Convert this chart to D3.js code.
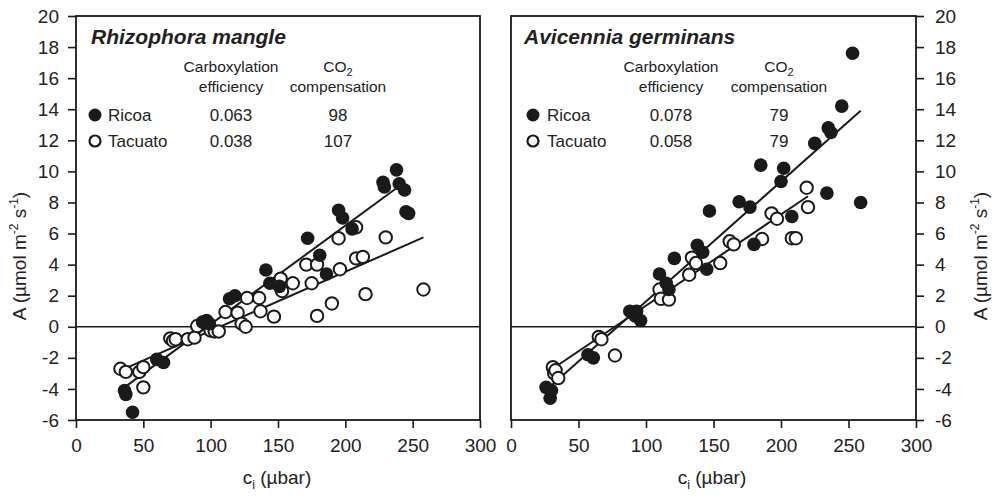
<!DOCTYPE html>
<html>
<head>
<meta charset="utf-8">
<script src="https://cdn.jsdelivr.net/npm/d3@7"></script>
<style>
  body { margin: 0; background: #fff; }
  svg text { font-family: "Liberation Sans", Arial, sans-serif; fill: #222; }
</style>
</head>
<body>
<svg id="chart" width="997" height="499"></svg>
<script>
// ---- data ----
var species = ["Rhizophora mangle", "Avicennia germinans"];
var sites = ["Ricoa", "Tacuato"];
var carbEff = [["0.063", "0.038"], ["0.078", "0.058"]];
var co2Comp = [["98", "107"], ["79", "79"]];
var xTicks = [0, 50, 100, 150, 200, 250, 300];
var yTicks = [-6, -4, -2, 0, 2, 4, 6, 8, 10, 12, 14, 16, 18, 20];

// [ci, A]
var mangleRicoa = [[36,-4.1],[37,-4.35],[42,-5.5],[60,-2.1],[65,-2.3],[94,0.3],[97,0.4],[99,0.2],
  [114,1.8],[118,2.0],[141,3.65],[144,2.8],[151,2.6],[172,5.7],[181,4.6],[186,3.4],[195,7.5],
  [198,7.0],[205,6.3],[228,9.3],[229,9.0],[238,10.1],[240,9.2],[244,8.8],[245,7.4],[247,7.3]];
var mangleTacuato = [[33,-2.7],[37,-2.9],[47,-2.9],[50,-2.6],[50,-3.9],[70,-0.75],[72,-0.9],[74,-0.8],
  [83,-0.8],[88,-0.7],[90,0.05],[100,-0.25],[103,-0.3],[106,-0.3],[111,0.95],[120,0.9],[123,0.2],
  [126,0.0],[127,1.85],[136,1.85],[137,1.0],[147,0.65],[152,3.1],[153,2.3],[161,2.8],[171,4.0],
  [175,2.8],[179,4.0],[179,0.7],[190,1.5],[195,5.7],[196,3.7],[208,6.4],[208,4.4],[213,4.5],
  [215,2.1],[230,5.75],[258,2.4]];
var germRicoa = [[26,-3.9],[29,-4.6],[30,-4.1],[57,-1.8],[61,-2.0],[88,1.0],[92,0.7],[93,1.0],[96,0.4],
  [110,3.4],[115,2.8],[117,2.4],[121,4.4],[138,5.25],[142,4.8],[145,3.7],[147,7.45],[169,8.05],
  [177,7.7],[180,5.3],[185,10.4],[200,9.35],[202,10.2],[208,7.1],[225,11.8],[234,8.6],[235,12.8],
  [237,12.5],[245,14.2],[253,17.6],[259,8.0]];
var germTacuato = [[31,-2.6],[32,-3.0],[33,-2.8],[35,-3.3],[65,-0.65],[67,-0.8],[77,-1.85],[110,2.4],
  [111,1.8],[117,1.75],[132,3.35],[134,4.45],[137,4.1],[155,4.1],[162,5.5],[165,5.3],[186,5.65],
  [193,7.3],[197,6.95],[208,5.7],[211,5.7],[219,8.95],[220,7.7]];
// regression lines, end points [ci, A]
var mangleFitRicoa = [[36,-3.9],[244,9.3]];
var mangleFitTacuato = [[32,-2.85],[258,5.75]];
var germFitRicoa = [[27,-4.0],[259,13.9]];
var germFitTacuato = [[30,-2.75],[220,8.4]];

var panels = [
  {name: species[0], left: 76, right: 480, side: "left", filled: mangleRicoa, open: mangleTacuato,
   fits: [mangleFitRicoa, mangleFitTacuato], eff: carbEff[0], comp: co2Comp[0],
   titleX: 91, markX: 95, labX: 108, effX: 231, compX: 338, xLab: 277, yLab: 26},
  {name: species[1], left: 511, right: 916, side: "right", filled: germRicoa, open: germTacuato,
   fits: [germFitRicoa, germFitTacuato], eff: carbEff[1], comp: co2Comp[1],
   titleX: 524, markX: 533, labX: 547, effX: 671, compX: 779, xLab: 712, yLab: 987}
];

var svg = d3.select("#chart");
var plotTop = 16, plotBottom = 420, ink = "#1a1a1a";

panels.forEach(function (p) {
  var x = d3.scaleLinear().domain([0, 300]).range([p.left, p.right]);
  var y = d3.scaleLinear().domain([-6, 20]).range([plotBottom, plotTop]);
  var g = svg.append("g");

  // x axis
  var xa = g.append("g").attr("transform", "translate(0," + plotBottom + ")")
    .call(d3.axisBottom(x).tickValues(xTicks).tickSize(8).tickSizeOuter(0).tickPadding(11)
      .tickFormat(function (d) { return String(d); }));
  // y axis
  var yAxis = p.side == "left" ? d3.axisLeft(y) : d3.axisRight(y);
  var ya = g.append("g").attr("transform", "translate(" + (p.side == "left" ? p.left : p.right) + ",0)")
    .call(yAxis.tickValues(yTicks).tickSize(8).tickSizeOuter(0).tickPadding(p.side == "left" ? 9 : 11)
      .tickFormat(function (d) { return String(d); }));
  [xa, ya].forEach(function (a) {
    a.select(".domain").remove();
    a.selectAll(".tick line").attr("stroke", ink).attr("stroke-width", 1.6);
    a.selectAll(".tick text").attr("font-size", 19).attr("fill", "#222")
      .style("font-family", "'Liberation Sans', Arial, sans-serif");
  });

  // frame and zero line
  g.append("rect").attr("x", p.left).attr("y", plotTop)
    .attr("width", p.right - p.left).attr("height", plotBottom - plotTop)
    .attr("fill", "none").attr("stroke", ink).attr("stroke-width", 1.8);
  g.append("line").attr("x1", p.left).attr("x2", p.right).attr("y1", y(0)).attr("y2", y(0))
    .attr("stroke", ink).attr("stroke-width", 1.6);

  // fit lines
  g.selectAll(".fit").data(p.fits).enter().append("line")
    .attr("class", "fit")
    .attr("x1", function (d) { return x(d[0][0]); })
    .attr("y1", function (d) { return y(d[0][1]); })
    .attr("x2", function (d) { return x(d[1][0]); })
    .attr("y2", function (d) { return y(d[1][1]); })
    .attr("stroke", ink).attr("stroke-width", 2);

  // points
  g.selectAll(".open").data(p.open).enter().append("circle")
    .attr("class", "open")
    .attr("cx", function (d) { return x(d[0]); })
    .attr("cy", function (d) { return y(d[1]); })
    .attr("r", 6.2).attr("fill", "#fff").attr("stroke", ink).attr("stroke-width", 2);
  g.selectAll(".filled").data(p.filled).enter().append("circle")
    .attr("class", "filled")
    .attr("cx", function (d) { return x(d[0]); })
    .attr("cy", function (d) { return y(d[1]); })
    .attr("r", 6.8).attr("fill", ink);

  // legend / table
  g.append("text").attr("x", p.titleX).attr("y", 44).attr("font-size", 21)
    .attr("font-weight", "bold").attr("font-style", "italic").text(p.name);
  var hdr = "#444";
  g.append("text").attr("x", p.effX).attr("y", 72).attr("text-anchor", "middle")
    .attr("font-size", 15.5).attr("fill", hdr).text("Carboxylation");
  g.append("text").attr("x", p.effX).attr("y", 92).attr("text-anchor", "middle")
    .attr("font-size", 15.5).attr("fill", hdr).text("efficiency");
  var co = g.append("text").attr("x", p.compX).attr("y", 72).attr("text-anchor", "middle")
    .attr("font-size", 15.5).attr("fill", hdr);
  co.append("tspan").text("CO");
  co.append("tspan").attr("font-size", 11).attr("dy", 4).text("2");
  g.append("text").attr("x", p.compX).attr("y", 92).attr("text-anchor", "middle")
    .attr("font-size", 15.5).attr("fill", hdr).text("compensation");

  sites.forEach(function (s, i) {
    var yy = 121 + i * 26;
    g.append("circle").attr("cx", p.markX).attr("cy", yy - 6)
      .attr("r", i == 0 ? 6.5 : 5.5)
      .attr("fill", i == 0 ? ink : "#fff")
      .attr("stroke", ink).attr("stroke-width", i == 0 ? 0 : 2.2);
    g.append("text").attr("x", p.labX).attr("y", yy).attr("font-size", 17).text(s);
    g.append("text").attr("x", p.effX).attr("y", yy).attr("text-anchor", "middle")
      .attr("font-size", 17).text(p.eff[i]);
    g.append("text").attr("x", p.compX).attr("y", yy).attr("text-anchor", "middle")
      .attr("font-size", 17).text(p.comp[i]);
  });

  // axis titles
  var xt = g.append("text").attr("x", p.xLab).attr("y", 484).attr("text-anchor", "middle")
    .attr("font-size", 19);
  xt.append("tspan").text("c");
  xt.append("tspan").attr("font-size", 12).attr("dy", 5).text("i");
  xt.append("tspan").attr("dy", -5).text(" (\u00b5bar)");

  var yt = g.append("text").attr("transform", "translate(" + p.yLab + ",256) rotate(-90)")
    .attr("text-anchor", "middle").attr("font-size", 19);
  yt.append("tspan").text("A (\u00b5mol m");
  yt.append("tspan").attr("font-size", 12).attr("dy", -8).text("-2");
  yt.append("tspan").attr("dy", 8).text(" s");
  yt.append("tspan").attr("font-size", 12).attr("dy", -8).text("-1");
  yt.append("tspan").attr("dy", 8).text(")");
});
</script>
</body>
</html>
